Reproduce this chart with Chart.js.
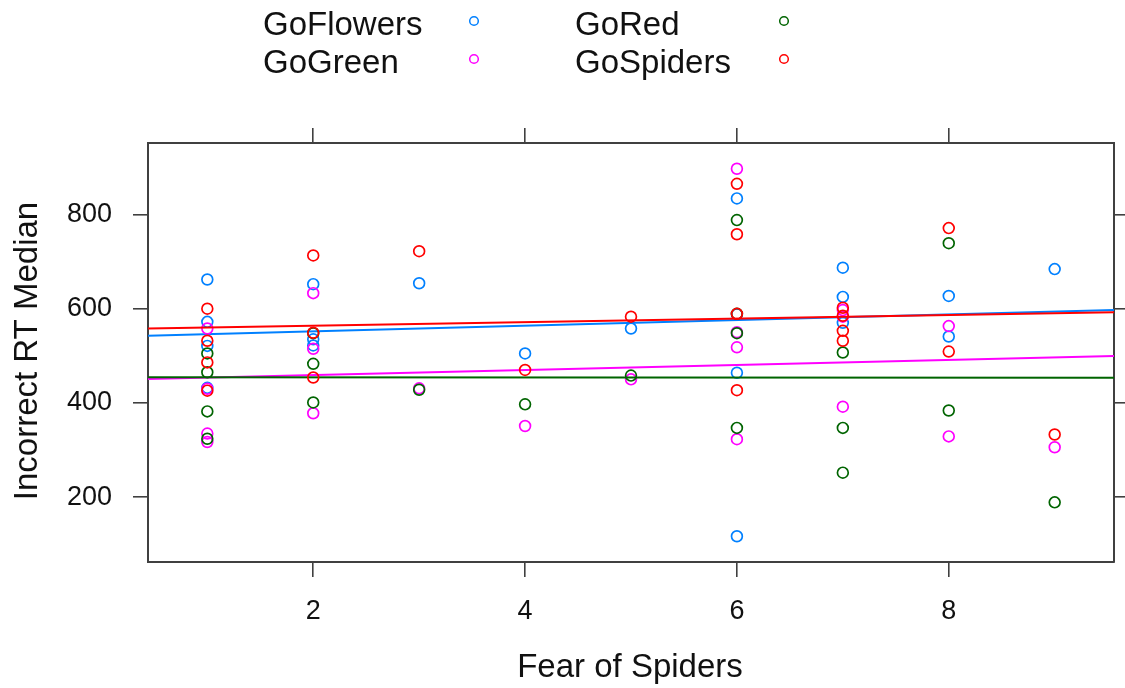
<!DOCTYPE html>
<html><head><meta charset="utf-8">
<script src="https://cdn.jsdelivr.net/npm/chart.js@4/dist/chart.umd.min.js"></script>
<style>html,body{margin:0;padding:0;background:#fff;}#wrap{width:1125px;height:688px;}</style>
</head><body><div id="wrap"><canvas id="c" width="1125" height="688"></canvas></div>
<script>
// ---- data ----
const seriesNames = ['GoFlowers', 'GoGreen', 'GoRed', 'GoSpiders'];
const seriesColors = ['#0080ff', '#ff00ff', '#006400', '#ff0000'];

const fearGoFlowers = [1,1,1,1,2,2,2,3,4,5,6,6,6,6,7,7,7,8,8,9];
const rtGoFlowers   = [662,572,521,432,652,535,522,654,505,558,834,588,464,117,687,625,570,627,541,684];

const fearGoGreen = [1,1,1,1,2,2,2,3,4,5,6,6,6,6,7,7,7,8,8,9];
const rtGoGreen   = [558,430,335,317,633,515,378,431,351,450,897,550,518,323,597,583,392,563,329,306];

const fearGoRed = [1,1,1,1,2,2,2,3,4,5,6,6,6,6,7,7,7,8,8,9];
const rtGoRed   = [505,465,382,324,548,483,401,428,397,458,788,589,548,347,507,347,252,739,384,189];

const fearGoSpiders = [1,1,1,1,2,2,2,3,4,5,6,6,6,6,7,7,7,7,8,8,9];
const rtGoSpiders   = [600,532,486,426,713,549,454,722,470,583,865,758,589,427,602,585,553,532,771,509,333];

const xTickValues = [2, 4, 6, 8];
const yTickValues = [200, 400, 600, 800];
const xTitle = 'Fear of Spiders';
const yTitle = 'Incorrect RT Median';

// ---- build ----
const fearArrays = [fearGoFlowers, fearGoGreen, fearGoRed, fearGoSpiders];
const rtArrays = [rtGoFlowers, rtGoGreen, rtGoRed, rtGoSpiders];

const allX = fearArrays.flat(), allY = rtArrays.flat();
const EXT = 0.07;
const xLo = Math.min(...allX), xHi = Math.max(...allX);
const yLo = Math.min(...allY), yHi = Math.max(...allY);
const xMin = xLo - EXT * (xHi - xLo), xMax = xHi + EXT * (xHi - xLo);
const yMin = yLo - EXT * (yHi - yLo), yMax = yHi + EXT * (yHi - yLo);

function lsFit(xs, ys) {
  const n = xs.length;
  const mx = xs.reduce((a, b) => a + b, 0) / n;
  const my = ys.reduce((a, b) => a + b, 0) / n;
  let sxy = 0, sxx = 0;
  for (let i = 0; i < n; i++) { sxy += (xs[i] - mx) * (ys[i] - my); sxx += (xs[i] - mx) ** 2; }
  const b = sxy / sxx;
  return { a: my - b * mx, b };
}

const datasets = [];
seriesNames.forEach((name, i) => {
  const xs = fearArrays[i], ys = rtArrays[i];
  datasets.push({
    type: 'scatter', label: name,
    data: xs.map((x, k) => ({ x, y: ys[k] })),
    borderColor: seriesColors[i], backgroundColor: 'rgba(0,0,0,0)',
    pointStyle: 'circle', pointRadius: 5.4, pointBorderWidth: 1.7, pointHoverRadius: 5.4,
    order: 10 - 2 * i
  });
  const f = lsFit(xs, ys);
  datasets.push({
    type: 'line', label: name + ' fit',
    data: [{ x: xMin, y: f.a + f.b * xMin }, { x: xMax, y: f.a + f.b * xMax }],
    borderColor: seriesColors[i], borderWidth: 2, pointRadius: 0, fill: false, tension: 0,
    order: 9 - 2 * i
  });
});

const FONT = '"Liberation Sans", Arial, sans-serif';
const AXC = '#404040';

function axisBase(pos) {
  return {
    type: 'linear', position: pos,
    grid: { drawOnChartArea: false, drawTicks: true, tickLength: 15, color: AXC, lineWidth: 1.6 },
    border: { display: true, color: AXC, width: 2 },
  };
}

const scales = {
  x: Object.assign(axisBase('bottom'), {
    min: xMin, max: xMax,
    afterBuildTicks: s => { s.ticks = xTickValues.map(v => ({ value: v })); },
    ticks: { font: { family: FONT, size: 27 }, color: '#111', padding: 18, maxRotation: 0, autoSkip: false },
    afterFit: s => { s.height = 126; }
  }),
  x2: Object.assign(axisBase('top'), {
    min: xMin, max: xMax,
    afterBuildTicks: s => { s.ticks = xTickValues.map(v => ({ value: v })); },
    ticks: { callback: () => '', font: { size: 10 }, autoSkip: false },
    afterFit: s => { s.height = 143; }
  }),
  y: Object.assign(axisBase('left'), {
    min: yMin, max: yMax,
    afterBuildTicks: s => { s.ticks = yTickValues.map(v => ({ value: v })); },
    ticks: { font: { family: FONT, size: 27 }, color: '#111', padding: 21, autoSkip: false },
    afterFit: s => { s.width = 148; }
  }),
  y2: Object.assign(axisBase('right'), {
    min: yMin, max: yMax,
    afterBuildTicks: s => { s.ticks = yTickValues.map(v => ({ value: v })); },
    ticks: { callback: () => '', font: { size: 10 }, autoSkip: false },
    afterFit: s => { s.width = 11; }
  })
};

const textPlugin = {
  id: 'latticeText',
  afterDraw(chart) {
    const ctx = chart.ctx;
    ctx.save();
    ctx.fillStyle = '#111';
    ctx.font = '33px ' + FONT;
    // x title
    ctx.textAlign = 'center'; ctx.textBaseline = 'alphabetic';
    ctx.fillText(xTitle, 630, 677);
    // y title
    ctx.save();
    ctx.translate(37, 351);
    ctx.rotate(-Math.PI / 2);
    ctx.fillText(yTitle, 0, 0);
    ctx.restore();
    // legend (2 columns x 2 rows)
    const colText = [263, 575], colSym = [474, 784], rowBase = [35, 73], rowSym = [21, 59];
    ctx.textAlign = 'left';
    seriesNames.forEach((name, i) => {
      const col = Math.floor(i / 2), row = i % 2;
      ctx.fillStyle = '#111';
      ctx.fillText(name, colText[col], rowBase[row]);
      ctx.beginPath();
      ctx.arc(colSym[col], rowSym[row], 4.3, 0, Math.PI * 2);
      ctx.strokeStyle = seriesColors[i];
      ctx.lineWidth = 1.5;
      ctx.stroke();
    });
    ctx.restore();
  }
};

new Chart(document.getElementById('c'), {
  type: 'scatter',
  data: { datasets },
  options: {
    responsive: false, animation: false, devicePixelRatio: 1,
    layout: { padding: 0 },
    plugins: { legend: { display: false }, title: { display: false }, tooltip: { enabled: false } },
    scales
  },
  plugins: [textPlugin]
});
</script>
</body></html>
